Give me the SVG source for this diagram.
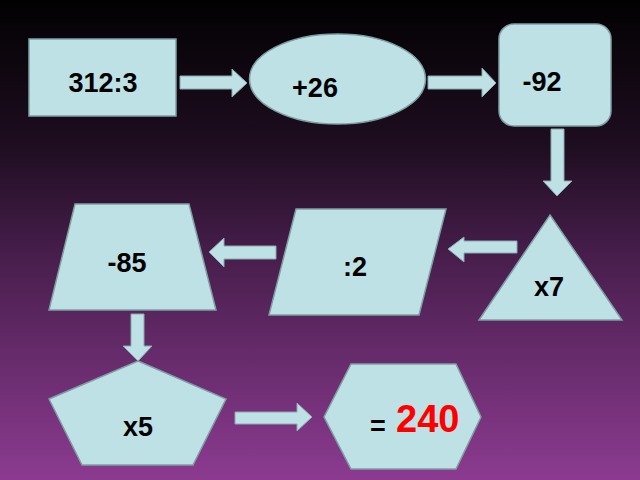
<svg xmlns="http://www.w3.org/2000/svg" width="640" height="480" viewBox="0 0 640 480">
<defs>
<linearGradient id="bg" x1="0" y1="0" x2="0" y2="1">
<stop offset="0" stop-color="#020102"/>
<stop offset="0.3" stop-color="#1e0d20"/>
<stop offset="0.55" stop-color="#4a1f4f"/>
<stop offset="1" stop-color="#8c3b90"/>
</linearGradient>
<style>
.shape{fill:#bde1e5;stroke:#7f9ea3;stroke-width:1.5}
.arrow{fill:#bde1e5;stroke:#8aa9ae;stroke-width:1}
.lbl{font-family:"Liberation Sans",Arial,sans-serif;font-weight:bold;font-size:27px;fill:#000}
.res{font-family:"Liberation Sans",Arial,sans-serif;font-weight:bold;font-size:38px;fill:#ff0000}
</style>
</defs>
<rect width="640" height="480" fill="url(#bg)"/>
<g id="connectors">
<polygon class="arrow" points="180,76 232,76 232,69 247,83 232,97 232,89 180,89"/>
<polygon class="arrow" points="428,76 482,76 482,68 496,83 482,97 482,89 428,89"/>
<polygon class="arrow" points="551,129 564,129 564,181 572,181 557,196 543,181 551,181"/>
<polygon class="arrow" points="517,241 464,241 464,237 448,249 464,262 464,253 517,253"/>
<polygon class="arrow" points="276,246 224,246 224,238 209,252 224,267 224,259 276,259"/>
<polygon class="arrow" points="131,314 144,314 144,346 152,346 138,361 123,346 131,346"/>
<polygon class="arrow" points="235,412 297,412 297,403 312,417 297,431 297,424 235,424"/>
</g>
<g id="node-rect">
<rect class="shape" x="29" y="39" width="147" height="77"/>
<text class="lbl" x="103" y="92" text-anchor="middle">312:3</text>
</g>
<g id="node-ellipse">
<ellipse class="shape" cx="337.5" cy="79" rx="88" ry="45"/>
<text class="lbl" x="315" y="97" text-anchor="middle">+26</text>
</g>
<g id="node-roundrect">
<rect class="shape" x="499" y="24" width="112" height="102" rx="15" ry="15"/>
<text class="lbl" x="542" y="91" text-anchor="middle">-92</text>
</g>
<g id="node-triangle">
<polygon class="shape" points="550,215 622,320 479,320"/>
<text class="lbl" x="549" y="296" text-anchor="middle">x7</text>
</g>
<g id="node-parallelogram">
<polygon class="shape" points="296,209 446,209 419,315 269,315"/>
<text class="lbl" x="355" y="276" text-anchor="middle">:2</text>
</g>
<g id="node-trapezoid">
<polygon class="shape" points="75,204 189,204 216,310 49,310"/>
<text class="lbl" x="127" y="272" text-anchor="middle">-85</text>
</g>
<g id="node-pentagon">
<polygon class="shape" points="138,361 226,399 193,465 82,465 49,399"/>
<text class="lbl" x="138" y="436" text-anchor="middle">x5</text>
</g>
<g id="node-hexagon">
<polygon class="shape" points="351,364 456,364 481,417 456,469 351,469 324,417"/>
<text class="lbl" x="370" y="435">=</text>
<text class="res" x="396" y="432">240</text>
</g>
</svg>
